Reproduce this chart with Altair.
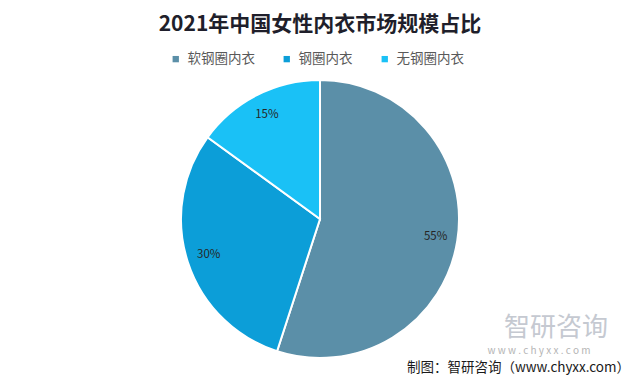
import altair as alt
import pandas as pd

categories = ["软钢圈内衣", "钢圈内衣", "无钢圈内衣"]
values = [55, 30, 15]
labels = ["55%", "30%", "15%"]
colors = ["#5b8fa8", "#0c9ed8", "#1ac1f6"]

title_text = "2021年中国女性内衣市场规模占比"
source_text = "制图：智研咨询（www.chyxx.com）"
wm_text = "智研咨询"
wm_url = "w w w . c h y x x . c o m"

df = pd.DataFrame({"cat": categories, "value": values, "label": labels, "idx": list(range(len(categories)))})

CX, CY = 312, 211
FONT = "Noto Sans CJK SC"

color = alt.Color(
    "cat:N",
    scale=alt.Scale(domain=categories, range=colors),
    sort=categories,
    legend=alt.Legend(
        title=None, orient="none", legendX=161, legendY=44, direction="horizontal",
        symbolType="square", symbolSize=40, symbolStrokeWidth=0,
        labelFont=FONT, labelFontSize=13.5, labelColor="#595959",
        columnPadding=25, labelOffset=5,
    ),
)

base = alt.Chart(df).encode(
    theta=alt.Theta("value:Q", stack=True),
    order=alt.Order("idx:Q"),
    x=alt.value(CX), y=alt.value(CY),
)

arcs = base.mark_arc(radius=139, stroke="white", strokeWidth=2).encode(color=color)
texts = base.mark_text(radius=117, font=FONT, fontSize=11.5, color="#262626").encode(text="label:N")

one = pd.DataFrame({"t": [title_text]})
title = alt.Chart(one).mark_text(font=FONT, fontSize=21, fontWeight="bold", color="#1f1f2b", baseline="middle").encode(
    text="t:N", x=alt.value(312), y=alt.value(17))

src = alt.Chart(pd.DataFrame({"t": [source_text]})).mark_text(font=FONT, fontSize=13.5, color="#1a1a1a", align="right", baseline="middle").encode(
    text="t:N", x=alt.value(622), y=alt.value(360))

wm1 = alt.Chart(pd.DataFrame({"t": [wm_text]})).mark_text(font=FONT, fontSize=26, color="#c5c9d1", baseline="middle").encode(
    text="t:N", x=alt.value(548), y=alt.value(320))
wm2 = alt.Chart(pd.DataFrame({"t": [wm_url]})).mark_text(font=FONT, fontSize=10, color="#b5b5b5", baseline="middle").encode(
    text="t:N", x=alt.value(531), y=alt.value(343))

chart = alt.layer(arcs, texts, title, wm1, wm2, src).properties(
    width=624, height=368, padding=0, autosize="none", background="white"
).configure_view(stroke=None)

chart.save("out.html", embed_options={"renderer": "svg", "actions": False})
